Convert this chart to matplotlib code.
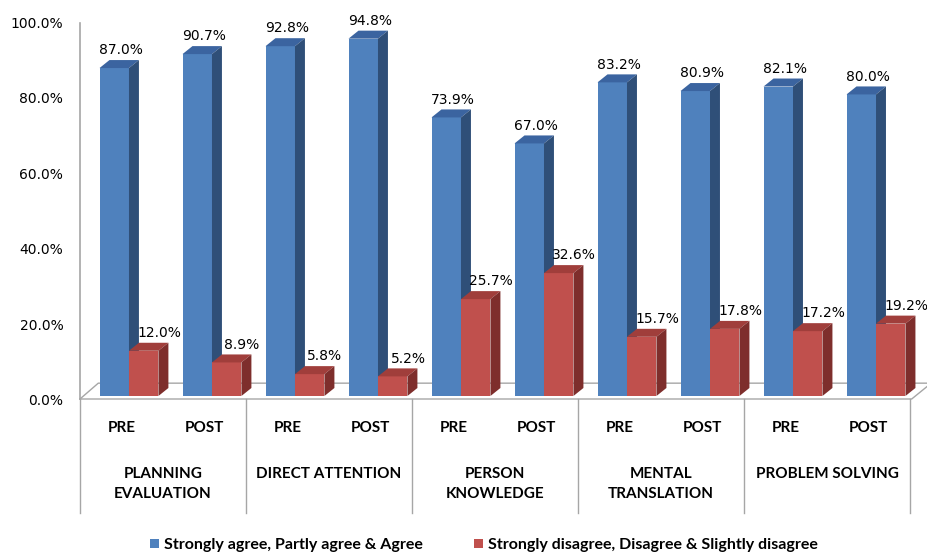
import matplotlib
matplotlib.use("Agg")
import matplotlib.pyplot as plt
from matplotlib.patches import Polygon, Patch
import numpy as np

# Values
groups = ["PLANNING\nEVALUATION", "DIRECT ATTENTION", "PERSON\nKNOWLEDGE",
          "MENTAL\nTRANSLATION", "PROBLEM SOLVING"]
phases = ["PRE", "POST"]
agree = [87.0, 90.7, 92.8, 94.8, 73.9, 67.0, 83.2, 80.9, 82.1, 80.0]
disagree = [12.0, 8.9, 5.8, 5.2, 25.7, 32.6, 15.7, 17.8, 17.2, 19.2]
series_names = ["Strongly agree, Partly agree & Agree",
                "Strongly disagree, Disagree & Slightly disagree"]
yticks = [0, 20, 40, 60, 80, 100]

# (front, top, side) colours per series
blue = ("#4F81BD", "#3B64A0", "#2F4F78")
red = ("#C0504D", "#A03E3B", "#7E2E2C")

width = 0.355
dx, dy = 0.12, 2.12   # fake 3D depth in data units

fig = plt.figure(figsize=(9.27, 5.57), dpi=100)
ax = fig.add_axes([80 / 927, 1 - 399 / 557, 840 / 927, 389 / 557])
ax.set_xlim(-0.59, 9.53)
ax.set_ylim(-0.8, 102.4)
ax.axis("off")


def draw_bar(x, v, colors):
    ax.bar(x, v, width, align="edge", color=colors[0], linewidth=0, zorder=3)
    top = [(x, v), (x + width, v), (x + width + dx, v + dy), (x + dx, v + dy)]
    side = [(x + width, 0), (x + width + dx, dy), (x + width + dx, v + dy), (x + width, v)]
    ax.add_patch(Polygon(top, closed=True, facecolor=colors[1], lw=0, zorder=3))
    ax.add_patch(Polygon(side, closed=True, facecolor=colors[2], lw=0, zorder=3))


# floor and value axis
grey = "#A6A6A6"
ax.plot([-0.59, -0.59], [-0.8, 99.0], color=grey, lw=1.2, clip_on=False, zorder=1)
ax.plot([-0.59, 9.43, 9.62], [-0.8, -0.8, 2.6], color=grey, lw=1.0, clip_on=False, zorder=1)
ax.plot([-0.59, -0.37, 9.62], [-0.8, 3.4, 3.4], color=grey, lw=1.0, clip_on=False, zorder=1)

n = len(agree)
for i in range(n):
    draw_bar(i - width, agree[i], blue)
    draw_bar(i, disagree[i], red)
    ax.annotate(f"{agree[i]:.1f}%", (i - width / 2, agree[i] + dy), xytext=(5, 2),
                textcoords="offset points", ha="center", va="bottom", fontsize=10, zorder=5)
    ax.annotate(f"{disagree[i]:.1f}%", (i + width / 2, disagree[i] + dy), xytext=(11, 2),
                textcoords="offset points", ha="center", va="bottom", fontsize=10, zorder=5)
    ax.text(i - 0.09, -8.5, phases[i % 2], ha="center", va="center",
            fontsize=11, fontweight="bold", family="Lato", clip_on=False)

# category table
for k in range(len(groups) + 1):
    ax.plot([-0.59 + 2 * k] * 2, [-0.8, -31.0], color=grey, lw=1.0, clip_on=False)
for k, g in enumerate(groups):
    ax.text(2 * k + 0.41, -18.9, g, ha="center", va="top", fontsize=11,
            fontweight="bold", family="Lato", linespacing=1.55, clip_on=False)

# value-axis labels
for t in yticks:
    ax.annotate(f"{t:.1f}%", (-0.59, t), xytext=(-12, -3.6), textcoords="offset points",
                ha="right", va="center", fontsize=10, annotation_clip=False)

handles = [Patch(facecolor=blue[0]), Patch(facecolor=red[0])]
fig.legend(handles, series_names, loc="center", bbox_to_anchor=(484 / 927, 12 / 557),
           ncol=2, frameon=False, handlelength=0.55, handleheight=0.55, handletextpad=0.3,
           columnspacing=3.2, prop={"family": "Lato", "weight": "bold", "size": 11.5})

fig.savefig("out.png", dpi=100)
